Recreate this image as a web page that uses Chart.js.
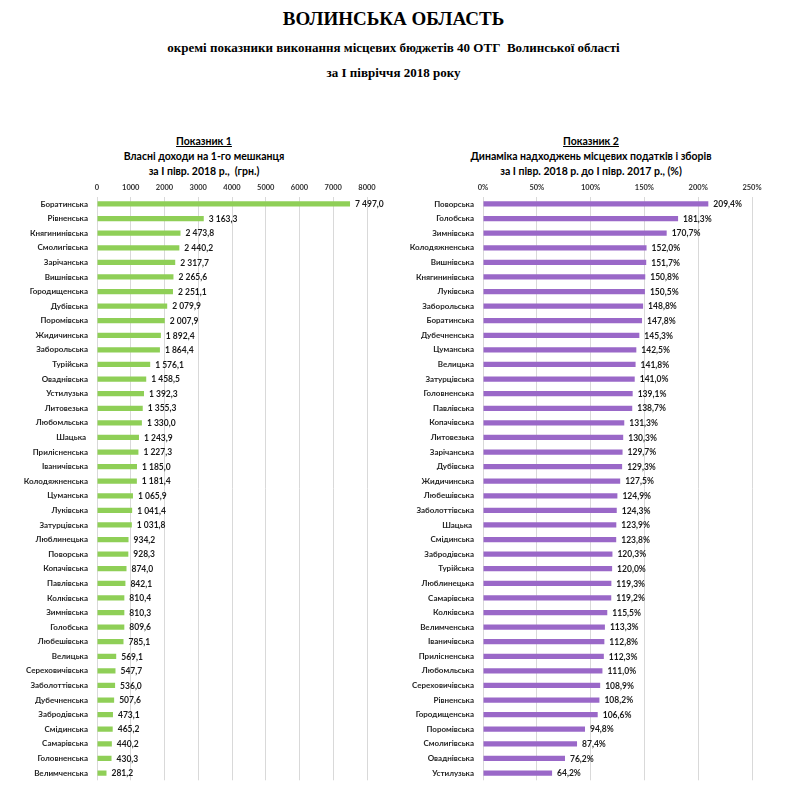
<!DOCTYPE html>
<html>
<head>
<meta charset="utf-8">
<script src="https://cdn.jsdelivr.net/npm/chart.js@4/dist/chart.umd.min.js"></script>
<style>
  body { margin: 0; background: #fff; width: 787px; height: 792px; position: relative; overflow: hidden; }
  .t { position: absolute; left: 0; width: 787px; text-align: center; font-family: "Liberation Serif", serif; font-weight: bold; color: #000; white-space: nowrap; }
  .ct { position: absolute; text-align: center; font-family: Lato, sans-serif; font-weight: bold; font-size: 10.5px; color: #000; line-height: 15px; white-space: nowrap; }
  canvas { position: absolute; }
</style>
</head>
<body>
<div class="t" style="top:8px;font-size:19px;">ВОЛИНСЬКА ОБЛАСТЬ</div>
<div class="t" style="top:40px;font-size:13px;">окремі показники виконання місцевих бюджетів 40 ОТГ&nbsp; Волинської області</div>
<div class="t" style="top:65px;font-size:13px;">за І півріччя 2018 року</div>

<div class="ct" style="left:54px;width:300px;top:134px;"><u>Показник 1</u><br>Власні доходи на 1-го мешканця<br>за І півр. 2018 р.,&nbsp; (грн.)</div>
<div class="ct" style="left:441px;width:300px;top:134px;"><u>Показник 2</u><br>Динаміка надходжень місцевих податків і зборів<br>за І півр. 2018 р. до І півр. 2017 р., (%)</div>

<canvas id="leftChart" width="390" height="612" style="left:0;top:178px;"></canvas>
<canvas id="rightChart" width="397" height="612" style="left:390px;top:178px;"></canvas>

<script>
// Показник 1 — власні доходи на 1-го мешканця, грн
const incomeNames = ['Боратинська', 'Рівненська', 'Княгининівська', 'Смолигівська', 'Зарічанська',
    'Вишнівська', 'Городищенська', 'Дубівська', 'Поромівська', 'Жидичинська', 'Заборольська',
    'Турійська', 'Оваднівська', 'Устилузька', 'Литовезька', 'Любомльська', 'Шацька ',
    'Прилісненська', 'Іваничівська', 'Колодяжненська', 'Цуманська', 'Луківська', 'Затурцівська',
    'Люблинецька', 'Поворська', 'Копачівська', 'Павлівська', 'Колківська', 'Зимнівська',
    'Голобська', 'Любешівська', 'Велицька', 'Сереховичівська', 'Заболоттівська', 'Дубечненська',
    'Забродівська', 'Смідинська', 'Самарівська', 'Головненська', 'Велимченська'];
const incomeValues = [7497.0, 3163.3, 2473.8, 2440.2, 2317.7, 2265.6, 2251.1, 2079.9, 2007.9, 1892.4,
    1864.4, 1576.1, 1458.5, 1392.3, 1355.3, 1330.0, 1243.9, 1227.3, 1185.0, 1181.4, 1065.9, 1041.4,
    1031.8, 934.2, 928.3, 874.0, 842.1, 810.4, 810.3, 809.6, 785.1, 569.1, 547.7, 536.0, 507.6,
    473.1, 465.2, 440.2, 430.3, 281.2];

// Показник 2 — динаміка надходжень місцевих податків і зборів, %
const taxNames = ['Поворська', 'Голобська', 'Зимнівська', 'Колодяжненська', 'Вишнівська',
    'Княгининівська', 'Луківська', 'Заборольська', 'Боратинська', 'Дубечненська', 'Цуманська',
    'Велицька', 'Затурцівська', 'Головненська', 'Павлівська', 'Копачівська', 'Литовезька',
    'Зарічанська', 'Дубівська', 'Жидичинська', 'Любешівська', 'Заболоттівська', 'Шацька ',
    'Смідинська', 'Забродівська', 'Турійська', 'Люблинецька', 'Самарівська', 'Колківська',
    'Велимченська', 'Іваничівська', 'Прилісненська', 'Любомльська', 'Сереховичівська',
    'Рівненська', 'Городищенська', 'Поромівська', 'Смолигівська', 'Оваднівська', 'Устилузька'];
const taxValues = [209.4, 181.3, 170.7, 152.0, 151.7, 150.8, 150.5, 148.8, 147.8, 145.3, 142.5,
    141.8, 141.0, 139.1, 138.7, 131.3, 130.3, 129.7, 129.3, 127.5, 124.9, 124.3, 123.9, 123.8,
    120.3, 120.0, 119.3, 119.2, 115.5, 113.3, 112.8, 112.3, 111.0, 108.9, 108.2, 106.6, 94.8,
    87.4, 76.2, 64.2];

Chart.defaults.font.family = 'Lato';
Chart.defaults.font.weight = 'bold';

// 7497.0 -> "7 497,0"
function fmtUa(v) {
    const parts = v.toFixed(1).split('.');
    return parts[0].replace(/\B(?=(\d{3})+(?!\d))/g, ' ') + ',' + parts[1];
}

// підписи значень праворуч від смуг
const valueLabels = {
    id: 'valueLabels',
    afterDatasetsDraw(chart, args, opts) {
        const ctx = chart.ctx;
        const meta = chart.getDatasetMeta(0);
        const data = chart.data.datasets[0].data;
        ctx.save();
        ctx.font = 'bold 8.5px Lato';
        ctx.fillStyle = '#1a1a1a';
        ctx.textBaseline = 'middle';
        ctx.textAlign = 'left';
        meta.data.forEach((bar, i) => {
            ctx.fillText(opts.format(data[i]), bar.x + opts.offset, bar.y + 0.5);
        });
        ctx.restore();
    }
};

function makeChart(id, names, values, color, max, step, tickFmt, labelFmt, yWidth, padRight, offset) {
    return new Chart(document.getElementById(id), {
        type: 'bar',
        data: {
            labels: names,
            datasets: [{
                data: values,
                backgroundColor: color,
                categoryPercentage: 1,
                barPercentage: 0.36
            }]
        },
        options: {
            indexAxis: 'y',
            responsive: false,
            animation: false,
            layout: { padding: { left: 0, right: padRight, top: 0, bottom: 9.7 } },
            plugins: {
                legend: { display: false },
                tooltip: { enabled: false },
                valueLabels: { format: labelFmt, offset: offset }
            },
            scales: {
                x: {
                    position: 'top',
                    min: 0,
                    max: max,
                    ticks: { stepSize: step, callback: tickFmt, font: { size: 7.5 }, color: '#333', padding: 5 },
                    grid: { color: '#d9d9d9', drawTicks: false },
                    border: { display: false },
                    afterFit(s) { s.height = 18.7; }
                },
                y: {
                    ticks: { autoSkip: false, font: { size: 8 }, color: '#262626', padding: 1 },
                    grid: { display: false },
                    border: { display: false },
                    afterFit(s) { s.width = yWidth; }
                }
            }
        },
        plugins: [valueLabels]
    });
}

makeChart('leftChart', incomeNames, incomeValues, '#8fcf57', 8000, 1000,
    v => v, fmtUa, 97, 23, 5);
makeChart('rightChart', taxNames, taxValues, '#9a68c8', 250, 50,
    v => v + '%', v => v.toFixed(1).replace('.', ',') + '%', 93, 35, 5);
</script>
</body>
</html>
